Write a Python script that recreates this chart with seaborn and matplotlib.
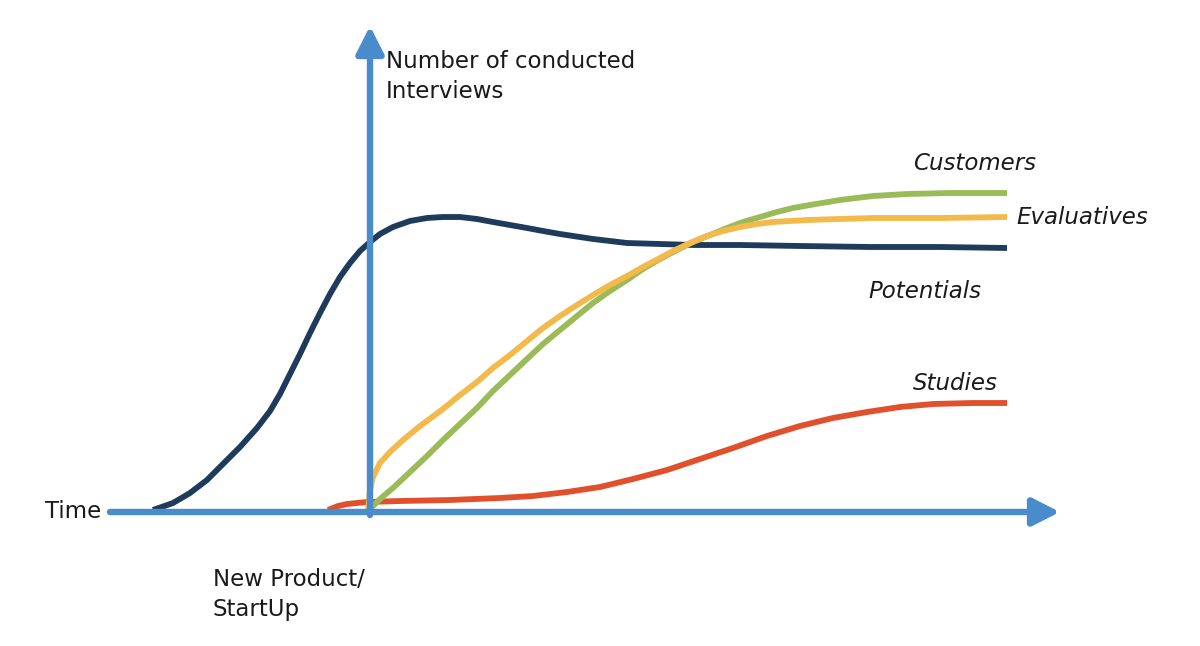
import pandas as pd
import matplotlib.pyplot as plt
import seaborn as sns

# Interview curves over time (origin = where the two arrows cross)
potentials_t = [-217, -197, -180, -163, -147, -130, -113, -100, -90, -80, -70, -60, -50, -40,
                -30, -20, -10, 0, 10, 23, 40, 57, 73, 90, 107, 123, 140, 157, 173, 190, 223,
                257, 290, 323, 370, 430, 500, 570, 637]
potentials_n = [2, 9, 19, 32, 48, 65, 84, 101, 118, 138, 158, 179, 199, 218,
                235, 249, 261, 270, 278, 285, 291, 294, 295, 295, 293, 290, 287, 284, 281, 278, 273,
                269, 268, 267, 267, 266, 265, 265, 264]

customers_t = [-2, 10, 23, 40, 57, 73, 90, 107, 123, 140, 157, 173, 190, 207, 223, 240, 257,
               273, 290, 307, 323, 340, 357, 373, 390, 407, 423, 440, 470, 503, 537, 580, 637]
customers_n = [1, 13, 24, 40, 56, 72, 88, 104, 121, 137, 153, 168, 182, 196, 209, 221, 232,
               243, 253, 262, 270, 277, 284, 290, 295, 300, 304, 307, 312, 316, 318, 319, 319]

evaluatives_t = [-2, -1, 0, 3, 10, 20, 33, 50, 73, 90, 107, 123, 140, 157, 173, 190, 207, 223,
                 240, 257, 273, 290, 303, 320, 337, 353, 370, 387, 403, 437, 470, 503, 570, 637]
evaluatives_n = [1, 12, 22, 35, 49, 60, 72, 86, 103, 117, 130, 144, 157, 171, 184, 196, 207, 217,
                 227, 236, 245, 254, 261, 269, 276, 281, 285, 288, 290, 292, 293, 294, 294, 295]

studies_t = [-42, -32, -23, -13, -3, 30, 80, 130, 163, 197, 230, 263, 297, 330, 363, 397, 430,
             463, 497, 530, 563, 603, 637]
studies_n = [2, 6, 8, 9, 10, 11, 12, 14, 16, 20, 25, 33, 42, 53, 64, 76, 86,
             94, 100, 105, 108, 109, 109]

series = {
    "Potentials": (potentials_t, potentials_n),
    "Studies": (studies_t, studies_n),
    "Customers": (customers_t, customers_n),
    "Evaluatives": (evaluatives_t, evaluatives_n),
}
colors = {
    "Potentials": "#1f3b5c",
    "Studies": "#e1502c",
    "Customers": "#9bbb59",
    "Evaluatives": "#f3b94a",
}

frames = []
for name, (t, n) in series.items():
    frames.append(pd.DataFrame({"series": name, "time": t, "interviews": n}))
df = pd.concat(frames, ignore_index=True)

sns.set_theme(style="white")
plt.rcParams['font.family'] = ['DejaVu Sans']

fig = plt.figure(figsize=(12, 6.46), dpi=100)
ax = fig.add_axes([0, 0, 1, 1])
ax.set_xlim(-370, 830)
ax.set_ylim(-134, 512)
ax.axis("off")

axis_blue = "#4a8bcb"
arrow_style = "-|>,head_length=0.75,head_width=0.38"
# time axis
ax.annotate("", xy=(690, 0), xytext=(-260, 0),
            arrowprops=dict(arrowstyle=arrow_style, lw=4.6, color=axis_blue,
                            mutation_scale=22, shrinkA=0, shrinkB=0))
# interviews axis
ax.annotate("", xy=(0, 486), xytext=(0, -3),
            arrowprops=dict(arrowstyle=arrow_style, lw=4.6, color=axis_blue,
                            mutation_scale=22, shrinkA=0, shrinkB=0))

sns.lineplot(data=df, x="time", y="interviews", hue="series", hue_order=list(series),
             palette=colors, sort=False, estimator=None, linewidth=4.2, legend=False,
             ax=ax, solid_capstyle="butt", solid_joinstyle="round")

fs = 16.5
txt = "#1a1a1a"
ax.text(16, 462, "Number of conducted\nInterviews", ha="left", va="top",
        fontsize=fs, color=txt, linespacing=1.38)
ax.text(-269, 0, "Time", ha="right", va="center", fontsize=fs, color=txt)
ax.text(-157, -56, "New Product/\nStartUp", ha="left", va="top",
        fontsize=fs, color=txt, linespacing=1.38)

ax.text(605, 349, "Customers", ha="center", va="center", fontsize=fs,
        style="italic", color=txt)
ax.text(646, 294, "Evaluatives", ha="left", va="center", fontsize=fs,
        style="italic", color=txt)
ax.text(555, 220, "Potentials", ha="center", va="center", fontsize=fs,
        style="italic", color=txt)
ax.text(585, 128, "Studies", ha="center", va="center", fontsize=fs,
        style="italic", color=txt)

fig.savefig("out.png", dpi=100)
